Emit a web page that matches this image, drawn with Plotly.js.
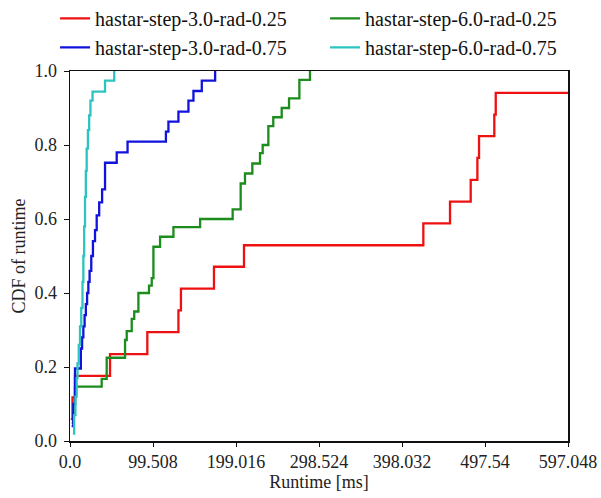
<!DOCTYPE html>
<html>
<head>
<meta charset="utf-8">
<script src="https://cdn.plot.ly/plotly-3.0.1.min.js"></script>
<style>html,body{margin:0;padding:0;background:#fff;}#chart{width:601px;height:498px;}</style>
</head>
<body>
<div id="chart"></div>
<script>
// Series names
const seriesNames = ["hastar-step-3.0-rad-0.25", "hastar-step-6.0-rad-0.25", "hastar-step-3.0-rad-0.75", "hastar-step-6.0-rad-0.75"];

// hastar-step-3.0-rad-0.25 (runtime ms, CDF)
const redX = [1, 3, 6, 48, 92.7, 130, 133, 172.6, 208.6, 423.6, 455.6, 480.4, 488.4, 490.4, 508.7, 510.4, 597.048];
const redY = [0.059, 0.118, 0.176, 0.235, 0.294, 0.353, 0.412, 0.471, 0.529, 0.588, 0.647, 0.706, 0.765, 0.824, 0.882, 0.941, 0.941];

// hastar-step-6.0-rad-0.25
const greenX = [2, 4, 6, 38, 44, 66, 68, 74, 77, 82, 94.7, 98, 100, 108, 124, 156, 195, 204.6, 209.8, 218.6, 227.8, 231, 237.8, 243.7, 253.8, 262.6, 275, 287.7];
const greenY = [0.049, 0.098, 0.147, 0.168, 0.225, 0.273, 0.297, 0.33, 0.35, 0.40, 0.42, 0.44, 0.525, 0.552, 0.578, 0.6, 0.626, 0.696, 0.723, 0.75, 0.778, 0.8, 0.851, 0.875, 0.9, 0.926, 0.976, 1.0];

// hastar-step-3.0-rad-0.75
const blueX = [2, 4, 6, 13, 14.5, 16, 17.5, 19, 20.5, 22, 23.5, 25.5, 27.5, 30, 32, 35, 38.5, 42, 56, 69, 115, 118, 130, 142, 148, 158, 174];
const blueY = [0.04, 0.1, 0.196, 0.25, 0.28, 0.31, 0.34, 0.37, 0.40, 0.43, 0.46, 0.5, 0.54, 0.57, 0.61, 0.645, 0.68, 0.752, 0.78, 0.809, 0.836, 0.863, 0.89, 0.92, 0.946, 0.974, 1.0];

// hastar-step-6.0-rad-0.75
const cyanX = [3.5, 5, 6.5, 8, 9, 10.5, 12, 13.5, 15, 16, 17, 18, 19, 20, 21.5, 23, 24.5, 27, 42, 53];
const cyanY = [0.02, 0.07, 0.12, 0.17, 0.21, 0.26, 0.31, 0.36, 0.43, 0.5, 0.58, 0.66, 0.73, 0.79, 0.84, 0.88, 0.92, 0.944, 0.974, 1.0];

// Axis ticks
const xTickVals = [0, 99.508, 199.016, 298.524, 398.032, 497.54, 597.048];
const xTickText = ["0.0", "99.508", "199.016", "298.524", "398.032", "497.54", "597.048"];
const yTickVals = [0, 0.2, 0.4, 0.6, 0.8, 1.0];
const yTickText = ["0.0", "0.2", "0.4", "0.6", "0.8", "1.0"];

const colors = ["#ee1111", "#1c8c1c", "#1212dd", "#2cc4c0"];
const xs = [redX, greenX, blueX, cyanX];
const ys = [redY, greenY, blueY, cyanY];

const serif = '"Liberation Serif", serif';

const traces = seriesNames.map((n, i) => ({
  x: xs[i], y: ys[i], name: n, type: "scatter", mode: "lines",
  line: {shape: "hv", color: colors[i], width: 2.3}
}));

const layout = {
  width: 601, height: 498,
  margin: {l: 70, r: 33, t: 71, b: 57, autoexpand: false},
  paper_bgcolor: "#fff", plot_bgcolor: "#fff",
  showlegend: true,
  legend: {
    orientation: "h", x: -0.03, xanchor: "left",
    y: 1.195, yanchor: "top",
    font: {family: serif, size: 20, color: "#111"},
    entrywidth: 225, tracegroupgap: 0, bgcolor: "rgba(0,0,0,0)"
  },
  xaxis: {
    range: [0, 597.048], tickvals: xTickVals, ticktext: xTickText,
    showgrid: false, zeroline: false, showline: true, mirror: true,
    linecolor: "#111", linewidth: 1.5, ticks: "outside", ticklen: 4, tickcolor: "#111",
    tickfont: {family: serif, size: 18, color: "#222"},
    title: {text: "Runtime [ms]", font: {family: serif, size: 18, color: "#222"}, standoff: 4}
  },
  yaxis: {
    range: [0, 1.0], tickvals: yTickVals, ticktext: yTickText,
    showgrid: false, zeroline: false, showline: true, mirror: true,
    linecolor: "#111", linewidth: 1.5, ticks: "outside", ticklen: 5, tickcolor: "#111",
    ticklabelstandoff: 3,
    tickfont: {family: serif, size: 18, color: "#222"},
    title: {text: "CDF of runtime", font: {family: serif, size: 18, color: "#222"}, standoff: 4}
  }
};

Plotly.newPlot("chart", traces, layout, {displayModeBar: false, staticPlot: true});
</script>
</body>
</html>
